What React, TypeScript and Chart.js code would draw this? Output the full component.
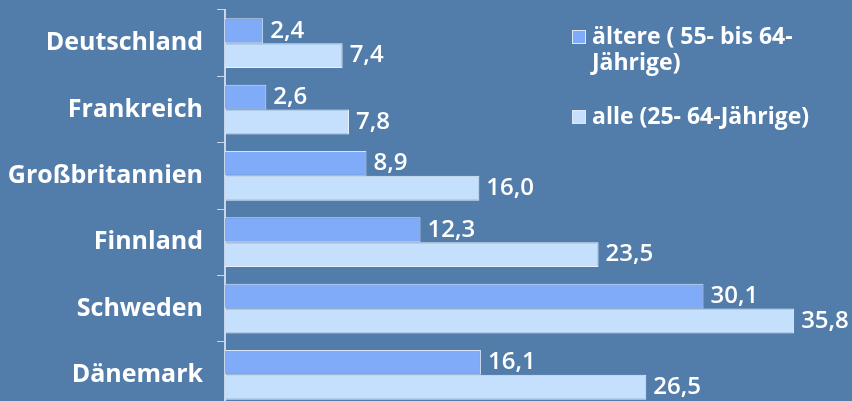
import React, { useEffect, useRef } from "react";
import { Chart, registerables } from "chart.js";

Chart.register(...registerables);

const categories = ["Deutschland", "Frankreich", "Großbritannien", "Finnland", "Schweden", "Dänemark"];
const olderLabel = ["ältere ( 55- bis 64-", "Jährige)"];
const allLabel = ["alle (25- 64-Jährige)"];
const olderValues = [2.4, 2.6, 8.9, 12.3, 30.1, 16.1];
const allValues = [7.4, 7.8, 16.0, 23.5, 35.8, 26.5];

const BG = "#527ca9";
const DARK = "#80abf8";
const LIGHT = "#c4e0fc";
const FONT = "'Open Sans', 'DejaVu Sans', sans-serif";

const valueLabels = {
  id: "valueLabels",
  afterDatasetsDraw(chart: any) {
    const ctx = chart.ctx;
    ctx.save();
    ctx.fillStyle = "#ffffff";
    ctx.font = `600 24px ${FONT}`;
    ctx.textAlign = "left";
    ctx.textBaseline = "middle";
    chart.data.datasets.forEach((ds: any, di: number) => {
      const meta = chart.getDatasetMeta(di);
      meta.data.forEach((bar: any, i: number) => {
        const v = ds.data[i] as number;
        ctx.fillText(v.toFixed(1).replace(".", ","), bar.x + 7, bar.y);
      });
    });
    ctx.restore();
  },
};

const customLegend = {
  id: "customLegend",
  afterDraw(chart: any) {
    const ctx = chart.ctx;
    ctx.save();
    ctx.font = `bold 23px ${FONT}`;
    ctx.textBaseline = "middle";
    ctx.textAlign = "left";
    const items = [
      { lines: olderLabel, color: DARK, y: 37 },
      { lines: allLabel, color: LIGHT, y: 117 },
    ];
    items.forEach((it) => {
      ctx.fillStyle = it.color;
      ctx.fillRect(572, it.y - 7, 14, 14);
      ctx.strokeStyle = "#dce8f6";
      ctx.lineWidth = 1;
      ctx.strokeRect(572.5, it.y - 6.5, 13, 13);
      ctx.fillStyle = "#ffffff";
      it.lines.forEach((ln, k) => {
        ctx.fillText(ln, 592, it.y + k * 26);
      });
    });
    ctx.restore();
  },
};

export default function App() {
  const ref = useRef<HTMLCanvasElement | null>(null);
  useEffect(() => {
    document.body.style.margin = "0";
    document.body.style.background = BG;
    const chart = new Chart(ref.current as HTMLCanvasElement, {
      type: "bar",
      data: {
        labels: categories,
        datasets: [
          {
            label: olderLabel.join(" "),
            data: olderValues,
            backgroundColor: DARK,
            borderColor: "#d6e4f6",
            borderWidth: 1,
            categoryPercentage: 0.75,
            barPercentage: 1,
          },
          {
            label: allLabel.join(" "),
            data: allValues,
            backgroundColor: LIGHT,
            borderColor: "#e6f0fc",
            borderWidth: 1,
            categoryPercentage: 0.75,
            barPercentage: 1,
          },
        ],
      },
      options: {
        indexAxis: "y",
        animation: false,
        responsive: false,
        devicePixelRatio: 1,
        layout: { padding: { top: 10, bottom: 2, left: 0, right: 7 } },
        plugins: {
          legend: { display: false },
          tooltip: { enabled: false },
        },
        scales: {
          x: { display: false, min: 0, max: 39 },
          y: {
            afterFit: (s: any) => {
              s.width = 225;
              s.paddingTop = 0;
              s.paddingBottom = 0;
            },
            border: { display: true, color: "#c8d6ea", width: 2 },
            grid: {
              display: true,
              drawOnChartArea: false,
              drawTicks: true,
              tickLength: 8,
              color: "#c8d6ea",
              offset: true,
            },
            ticks: {
              color: "#ffffff",
              font: { family: FONT, size: 25, weight: "bold" },
              padding: 14,
            },
          },
        },
      },
      plugins: [valueLabels, customLegend],
    });
    return () => chart.destroy();
  }, []);
  return (
    <div
      style={{
        position: "fixed",
        top: 0,
        left: 0,
        width: 852,
        height: 401,
        overflow: "hidden",
        background: BG,
      }}
    >
      <canvas ref={ref} width={852} height={410} style={{ display: "block" }} />
    </div>
  );
}
